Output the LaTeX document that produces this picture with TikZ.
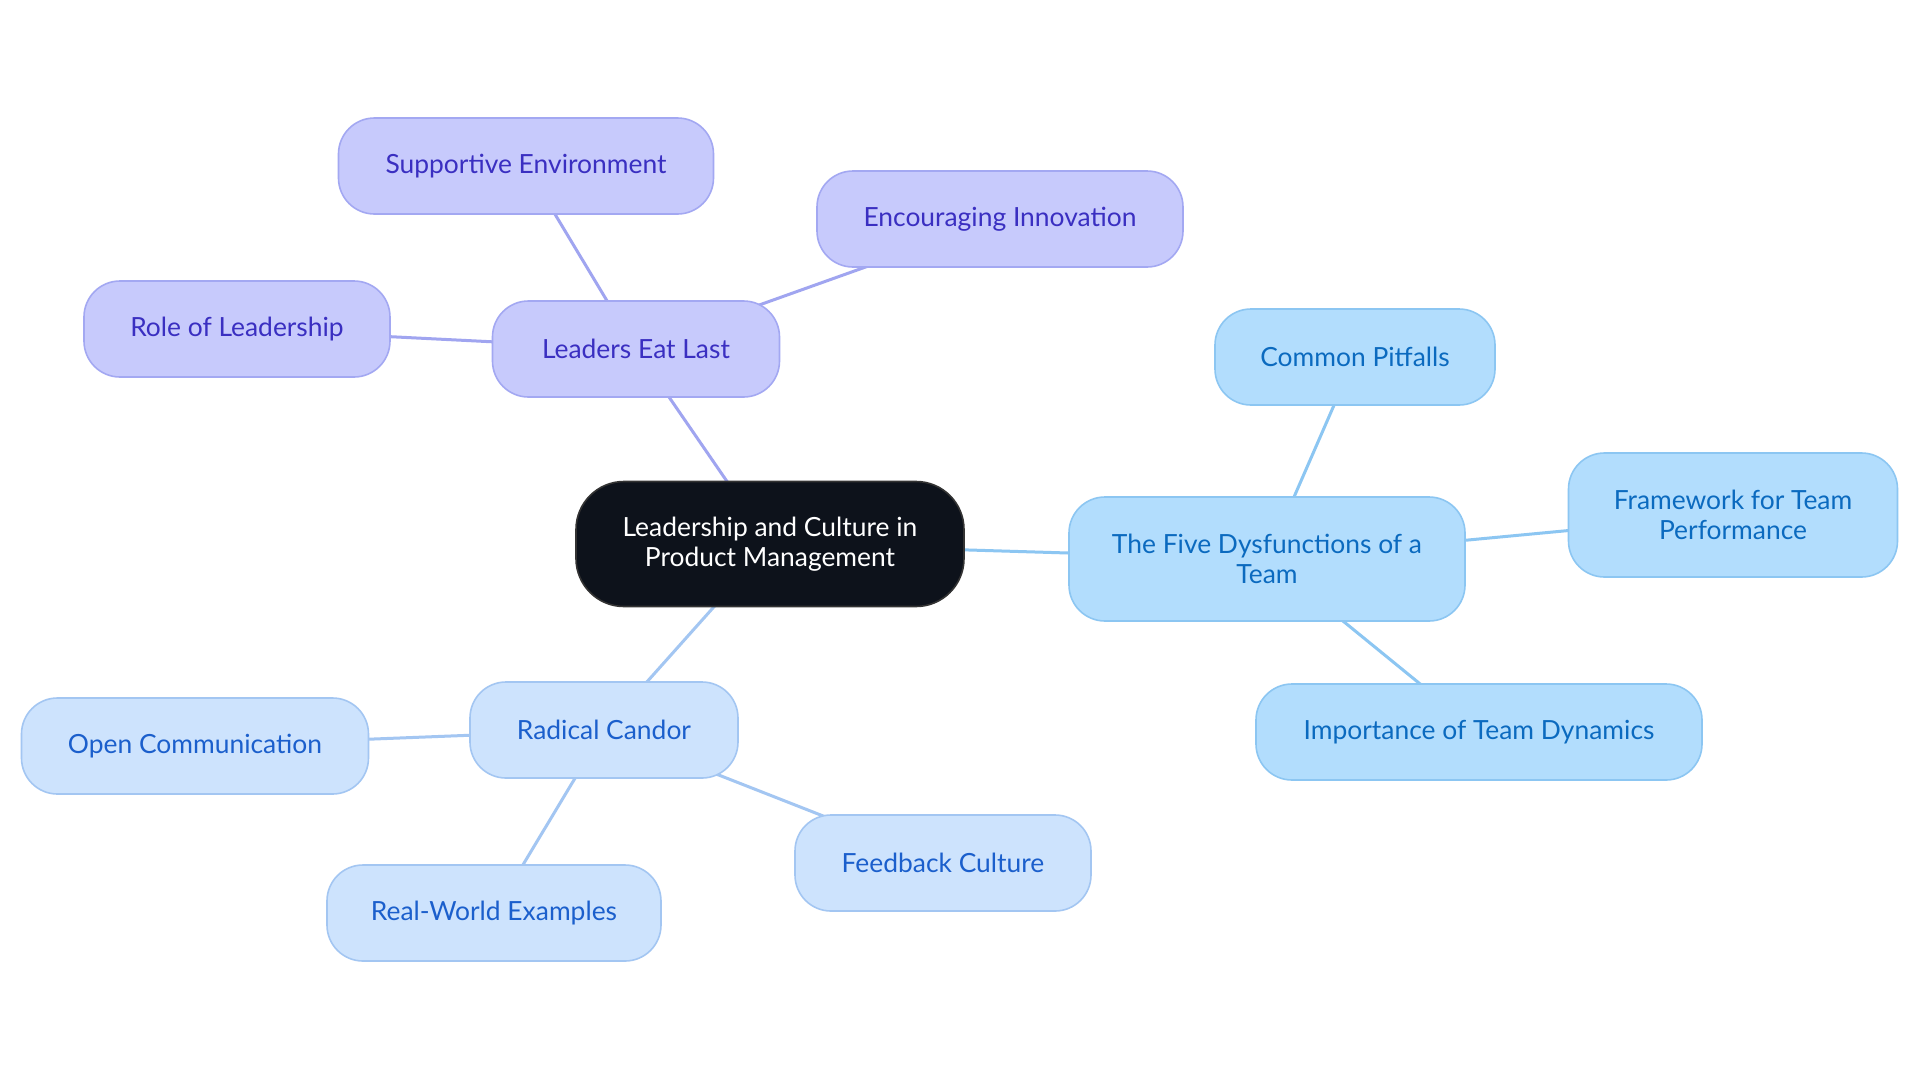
\documentclass[tikz,border=0pt]{standalone}
\usepackage{fontspec}
\setmainfont{Lato}
\usetikzlibrary{positioning,backgrounds}
\definecolor{rootfill}{HTML}{0D121B}
\definecolor{pfill}{HTML}{C7CAFC}
\definecolor{pdraw}{HTML}{A3A8F2}
\definecolor{ptext}{HTML}{3A2FC1}
\definecolor{pline}{HTML}{A0A5F0}
\definecolor{bfill}{HTML}{B2DDFD}
\definecolor{bdraw}{HTML}{8CC6F2}
\definecolor{btext}{HTML}{0B6ABF}
\definecolor{lfill}{HTML}{CDE3FD}
\definecolor{ldraw}{HTML}{A3C6F2}
\definecolor{ltext}{HTML}{1B5FCC}
\tikzset{
  topic/.style={rectangle, rounded corners=18pt, minimum height=48pt, inner sep=0pt,
    line width=0.8pt, align=center, font=\fontsize{13.2}{14.7}\selectfont},
  lead/.style={topic, fill=pfill, draw=pdraw, text=ptext},
  dysf/.style={topic, fill=bfill, draw=bdraw, text=btext},
  cand/.style={topic, fill=lfill, draw=ldraw, text=ltext},
  link/.style={line width=1.5pt}
}

\begin{document}
\begin{tikzpicture}[on grid, auto]
    \useasboundingbox (-385pt,-269.5pt) rectangle (575pt,272pt);

    \node[topic, fill=rootfill, draw=black!80, text=white, rounded corners=24pt,
          minimum width=194pt, minimum height=62.5pt] (root)
          {Leadership and Culture in\\Product Management};

      % Leaders Eat Last
      \node[lead, minimum width=143.5pt] (leaders) [above left = 97.5pt and 67pt of root] {Leaders Eat Last};
      \node[lead, minimum width=187.5pt] (support) [above left = 91.5pt and 55pt of leaders] {Supportive Environment};
      \node[lead, minimum width=183pt] (innov) [above right = 65pt and 182pt of leaders] {Encouraging Innovation};
      \node[lead, minimum width=153pt] (role) [above left = 10pt and 199.5pt of leaders] {Role of Leadership};

      % The Five Dysfunctions
      \node[dysf, minimum width=198pt, minimum height=62pt] (five) [below right = 7.5pt and 248.5pt of root] {The Five Dysfunctions of a\\Team};
      \node[dysf, minimum width=140pt] (pitfalls) [above right = 101pt and 44pt of five] {Common Pitfalls};
      \node[dysf, minimum width=164.5pt, minimum height=62pt] (frame) [above right = 22pt and 233pt of five] {Framework for Team\\Performance};
      \node[dysf, minimum width=223pt] (dynamics) [below right = 86.5pt and 106pt of five] {Importance of Team Dynamics};

      % Radical Candor
      \node[cand, minimum width=134pt] (candor) [below left = 93pt and 83pt of root] {Radical Candor};
      \node[cand, minimum width=173.5pt] (open) [below left = 8pt and 204.5pt of candor] {Open Communication};
      \node[cand, minimum width=167pt] (examples) [below left = 91.5pt and 55pt of candor] {Real-World Examples};
      \node[cand, minimum width=148pt] (feedback) [below right = 66.5pt and 169.5pt of candor] {Feedback Culture};

    \begin{scope}[on background layer]
      \fill[white] (-385pt,-269.5pt) rectangle (575pt,272pt);
      \path[link, draw=pline]
            (root.center) edge (leaders.center)
            (leaders.center) edge (support.center)
            (leaders.center) edge (innov.center)
            (leaders.center) edge (role.center);
      \path[link, draw=bdraw]
            (root.center) edge (five.center)
            (five.center) edge (pitfalls.center)
            (five.center) edge (frame.center)
            (five.center) edge (dynamics.center);
      \path[link, draw=ldraw]
            (root.center) edge (candor.center)
            (candor.center) edge (open.center)
            (candor.center) edge (examples.center)
            (candor.center) edge (feedback.center);
    \end{scope}
  \end{tikzpicture}
\end{document}
